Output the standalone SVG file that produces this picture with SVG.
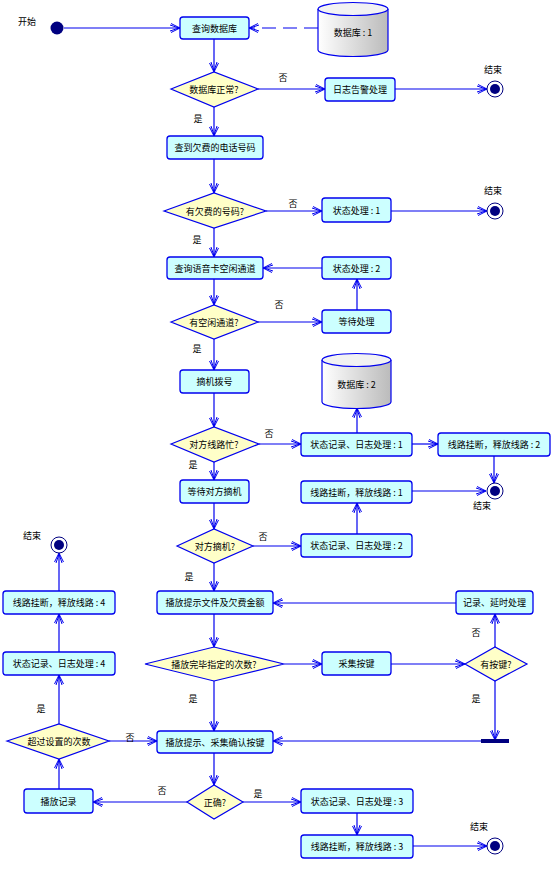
<svg xmlns="http://www.w3.org/2000/svg" width="553" height="873" viewBox="0 0 553 873">
<style>
.box{fill:#CCFFFF;stroke:#0000EE;stroke-width:1.3}
.dec{fill:#FFFFC8;stroke:#0000EE;stroke-width:1.2}
.t{font-family:"Noto Sans CJK SC","Noto Sans",sans-serif;font-size:9px;fill:#000;text-anchor:middle;dominant-baseline:central}
.l{font-family:"Noto Sans CJK SC","Noto Sans",sans-serif;font-size:9px;fill:#000;text-anchor:middle}
.c{stroke:#0000EE;stroke-width:1.2;fill:none;marker-end:url(#ah)}
.end1{fill:#fff;stroke:#000080;stroke-width:1}
.end2{fill:#000080}
</style>
<defs>
<marker id="ah" markerUnits="userSpaceOnUse" markerWidth="12" markerHeight="12" refX="10" refY="5" orient="auto">
<path d="M1,0.5 L10,5 L1,9.5 M0,2 L9,5 L0,8" fill="none" stroke="#0000EE" stroke-width="1"/>
</marker>
<linearGradient id="cyl" x1="0" y1="0" x2="1" y2="0">
<stop offset="0" stop-color="#FFFFFF"/>
<stop offset="1" stop-color="#BBBBBB"/>
</linearGradient>
</defs>
<rect width="553" height="873" fill="#fff"/>

<g id="connectors">
<line class="c" x1="64" y1="28" x2="180" y2="28"/>
<line class="c" x1="318" y1="28" x2="249" y2="28" stroke-dasharray="14,7"/>
<line class="c" x1="214" y1="39" x2="214" y2="72"/>
<line class="c" x1="258" y1="89" x2="325" y2="89"/>
<line class="c" x1="395" y1="89" x2="487" y2="89"/>
<line class="c" x1="214" y1="107" x2="214" y2="136"/>
<line class="c" x1="214" y1="159" x2="214" y2="193"/>
<line class="c" x1="266" y1="211" x2="322" y2="211"/>
<line class="c" x1="391" y1="211" x2="487" y2="211"/>
<line class="c" x1="214" y1="228" x2="214" y2="257"/>
<line class="c" x1="322" y1="268" x2="263" y2="268"/>
<line class="c" x1="214" y1="279" x2="214" y2="305"/>
<line class="c" x1="258" y1="322" x2="322" y2="322"/>
<line class="c" x1="357" y1="310" x2="357" y2="279"/>
<line class="c" x1="214" y1="339" x2="214" y2="370"/>
<line class="c" x1="214" y1="393" x2="214" y2="427"/>
<line class="c" x1="259" y1="444" x2="301" y2="444"/>
<line class="c" x1="357" y1="433" x2="357" y2="408"/>
<line class="c" x1="412" y1="444" x2="438" y2="444"/>
<line class="c" x1="494" y1="456" x2="494" y2="483"/>
<line class="c" x1="412" y1="491" x2="486" y2="491"/>
<line class="c" x1="214" y1="462" x2="214" y2="480"/>
<line class="c" x1="214" y1="503" x2="214" y2="529"/>
<line class="c" x1="253" y1="546" x2="301" y2="546"/>
<line class="c" x1="357" y1="534" x2="357" y2="503"/>
<line class="c" x1="214" y1="563" x2="214" y2="591"/>
<line class="c" x1="456" y1="603" x2="273" y2="603"/>
<line class="c" x1="214" y1="614" x2="214" y2="647"/>
<line class="c" x1="284" y1="664" x2="322" y2="664"/>
<line class="c" x1="391" y1="664" x2="465" y2="664"/>
<line class="c" x1="495" y1="647" x2="495" y2="614"/>
<line class="c" x1="495" y1="681" x2="495" y2="740"/>
<line class="c" x1="481" y1="741" x2="273" y2="741"/>
<line class="c" x1="214" y1="681" x2="214" y2="731"/>
<line class="c" x1="109" y1="741" x2="157" y2="741"/>
<line class="c" x1="59" y1="724" x2="59" y2="675"/>
<line class="c" x1="59" y1="652" x2="59" y2="614"/>
<line class="c" x1="59" y1="591" x2="59" y2="553"/>
<line class="c" x1="214" y1="753" x2="214" y2="785"/>
<line class="c" x1="187" y1="802" x2="93" y2="802"/>
<line class="c" x1="59" y1="789" x2="59" y2="759"/>
<line class="c" x1="243" y1="802" x2="301" y2="802"/>
<line class="c" x1="357" y1="813" x2="357" y2="835"/>
<line class="c" x1="413" y1="846" x2="487" y2="846"/>
</g>

<g id="labels">
<text class="l" x="27" y="25">开始</text>
<text class="l" x="283" y="81">否</text>
<text class="l" x="493" y="73">结束</text>
<text class="l" x="198" y="122">是</text>
<text class="l" x="293" y="207">否</text>
<text class="l" x="493" y="194">结束</text>
<text class="l" x="197" y="243">是</text>
<text class="l" x="279" y="308">否</text>
<text class="l" x="197" y="352">是</text>
<text class="l" x="269" y="437">否</text>
<text class="l" x="193" y="468">是</text>
<text class="l" x="482" y="509">结束</text>
<text class="l" x="263" y="540">否</text>
<text class="l" x="189" y="580">是</text>
<text class="l" x="32" y="539">结束</text>
<text class="l" x="476" y="636">否</text>
<text class="l" x="476" y="702">是</text>
<text class="l" x="193" y="702">是</text>
<text class="l" x="41" y="712">是</text>
<text class="l" x="130" y="741">否</text>
<text class="l" x="162" y="794">否</text>
<text class="l" x="258" y="797">是</text>
<text class="l" x="479" y="830">结束</text>
</g>

<g id="start"><circle cx="57" cy="28" r="6.5" fill="#000080"/></g>

<g id="n_query_db"><rect class="box" x="180" y="17" width="69" height="22" rx="3"/><text class="t" x="214.5" y="28">查询数据库</text></g>

<g id="db1">
<path d="M318,9 V50 A35,6.5 0 0 0 388,50 V9" fill="url(#cyl)" stroke="#0000EE" stroke-width="1.2"/>
<ellipse cx="353" cy="9" rx="35" ry="6.5" fill="#F2F2F2" stroke="#0000EE" stroke-width="1.2"/>
<text class="t" x="353" y="32">数据库 : 1</text>
</g>

<g id="d_db_ok"><polygon class="dec" points="171,89 214,72 258,89 214,107"/><text class="t" x="214" y="89">数据库正常?</text></g>
<g id="n_log_alarm"><rect class="box" x="325" y="78" width="70" height="23" rx="3"/><text class="t" x="360" y="89.5">日志告警处理</text></g>
<g id="end1"><circle class="end1" cx="495" cy="89" r="8"/><circle class="end2" cx="495" cy="89" r="5"/></g>

<g id="n_find_owe"><rect class="box" x="167" y="136" width="96" height="23" rx="3"/><text class="t" x="215" y="147.5">查到欠费的电话号码</text></g>
<g id="d_has_owe"><polygon class="dec" points="164,211 214,193 266,211 214,228"/><text class="t" x="215" y="211">有欠费的号码?</text></g>
<g id="n_state1"><rect class="box" x="322" y="198" width="69" height="24" rx="3"/><text class="t" x="356.5" y="210">状态处理 : 1</text></g>
<g id="end2"><circle class="end1" cx="495" cy="211" r="8"/><circle class="end2" cx="495" cy="211" r="5"/></g>

<g id="n_query_ch"><rect class="box" x="167" y="257" width="96" height="22" rx="3"/><text class="t" x="215" y="268">查询语音卡空闲通道</text></g>
<g id="n_state2"><rect class="box" x="322" y="257" width="69" height="22" rx="3"/><text class="t" x="356.5" y="268">状态处理 : 2</text></g>
<g id="d_has_ch"><polygon class="dec" points="171,322 214,305 258,322 214,339"/><text class="t" x="214" y="322">有空闲通道?</text></g>
<g id="n_wait"><rect class="box" x="322" y="310" width="69" height="23" rx="3"/><text class="t" x="356.5" y="321.5">等待处理</text></g>

<g id="n_dial"><rect class="box" x="180" y="370" width="69" height="23" rx="3"/><text class="t" x="214.5" y="381.5">摘机拨号</text></g>
<g id="db2">
<path d="M322,360 V402 A34.5,6.5 0 0 0 391,402 V360" fill="url(#cyl)" stroke="#0000EE" stroke-width="1.2"/>
<ellipse cx="356.5" cy="360" rx="34.5" ry="6.5" fill="#F2F2F2" stroke="#0000EE" stroke-width="1.2"/>
<text class="t" x="356.5" y="384">数据库 : 2</text>
</g>

<g id="d_busy"><polygon class="dec" points="171,444 214,427 259,444 214,462"/><text class="t" x="214" y="444">对方线路忙?</text></g>
<g id="n_rec1"><rect class="box" x="301" y="433" width="111" height="23" rx="3"/><text class="t" x="356.5" y="444.5">状态记录、日志处理 : 1</text></g>
<g id="n_hang2"><rect class="box" x="438" y="433" width="112" height="23" rx="3"/><text class="t" x="494" y="444.5">线路挂断，释放线路 : 2</text></g>
<g id="end3"><circle class="end1" cx="495" cy="491" r="8"/><circle class="end2" cx="495" cy="491" r="5"/></g>
<g id="n_wait_pick"><rect class="box" x="180" y="480" width="69" height="23" rx="3"/><text class="t" x="214.5" y="491.5">等待对方摘机</text></g>
<g id="n_hang1"><rect class="box" x="301" y="481" width="111" height="22" rx="3"/><text class="t" x="356.5" y="492">线路挂断，释放线路 : 1</text></g>
<g id="d_pick"><polygon class="dec" points="177,546 214,529 253,546 214,563"/><text class="t" x="215" y="546">对方摘机?</text></g>
<g id="n_rec2"><rect class="box" x="301" y="534" width="111" height="23" rx="3"/><text class="t" x="356.5" y="545.5">状态记录、日志处理 : 2</text></g>

<g id="n_play_file"><rect class="box" x="157" y="591" width="116" height="23" rx="3"/><text class="t" x="215" y="602.5">播放提示文件及欠费金额</text></g>
<g id="n_rec_delay"><rect class="box" x="456" y="591" width="77" height="23" rx="3"/><text class="t" x="494.5" y="602.5">记录、延时处理</text></g>
<g id="d_play_done"><polygon class="dec" points="145,664 214,647 284,664 214,681"/><text class="t" x="214" y="664">播放完毕指定的次数?</text></g>
<g id="n_collect"><rect class="box" x="322" y="652" width="69" height="23" rx="3"/><text class="t" x="356.5" y="663.5">采集按键</text></g>
<g id="d_key"><polygon class="dec" points="465,664 495,647 527,664 495,681"/><text class="t" x="496" y="664">有按键?</text></g>
<g id="sync"><rect x="481" y="739" width="28" height="4" fill="#000080"/></g>

<g id="n_play_confirm"><rect class="box" x="157" y="731" width="116" height="22" rx="3"/><text class="t" x="215" y="742">播放提示、采集确认按键</text></g>
<g id="d_exceed"><polygon class="dec" points="7,741 59,724 109,741 59,759"/><text class="t" x="59" y="741">超过设置的次数</text></g>
<g id="n_rec4"><rect class="box" x="3" y="652" width="112" height="23" rx="3"/><text class="t" x="59" y="663.5">状态记录、日志处理 : 4</text></g>
<g id="n_hang4"><rect class="box" x="3" y="591" width="112" height="23" rx="3"/><text class="t" x="59" y="602.5">线路挂断，释放线路 : 4</text></g>
<g id="end4"><circle class="end1" cx="59" cy="545" r="8"/><circle class="end2" cx="59" cy="545" r="5"/></g>

<g id="d_correct"><polygon class="dec" points="187,802 214,785 243,802 214,819"/><text class="t" x="215" y="802">正确?</text></g>
<g id="n_play_rec"><rect class="box" x="24" y="789" width="69" height="24" rx="3"/><text class="t" x="58.5" y="801">播放记录</text></g>
<g id="n_rec3"><rect class="box" x="301" y="789" width="112" height="24" rx="3"/><text class="t" x="357" y="801">状态记录、日志处理 : 3</text></g>
<g id="n_hang3"><rect class="box" x="301" y="835" width="112" height="23" rx="3"/><text class="t" x="357" y="846.5">线路挂断，释放线路 : 3</text></g>
<g id="end5"><circle class="end1" cx="495" cy="846" r="8"/><circle class="end2" cx="495" cy="846" r="5"/></g>
</svg>
